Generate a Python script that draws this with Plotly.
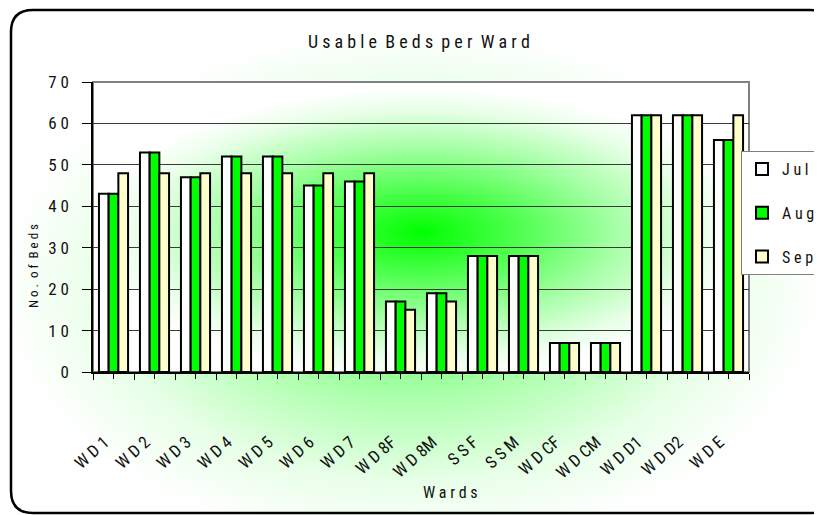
import base64
import plotly.graph_objects as go

# ---- data ----
wards = ["W D 1", "W D 2", "W D 3", "W D 4", "W D 5", "W D 6", "W D 7", "W D 8F",
         "W D 8M", "S S F", "S S M", "W D CF", "W D CM", "W D D1", "W D D2", "W D E"]
jul = [43, 53, 47, 52, 52, 45, 46, 17, 19, 28, 28, 7, 7, 62, 62, 56]
aug = [43, 53, 47, 52, 52, 45, 46, 17, 19, 28, 28, 7, 7, 62, 62, 56]
sep = [48, 48, 48, 48, 48, 48, 48, 15, 17, 28, 28, 7, 7, 62, 62, 62]
series_names = ["J u l", "A u g", "S e p"]
y_ticks = [0, 10, 20, 30, 40, 50, 60, 70]
y_ticktext = ["0", "1 0", "2 0", "3 0", "4 0", "5 0", "6 0", "7 0"]
title_text = "U s a b l e\u00a0 B e d s\u00a0 p e r\u00a0 W a r d"
x_title = "W a r d s"
y_title = "N o .\u00a0 o f\u00a0 B e d s"

# ---- geometry (reference-window pixels; page body has an 8px margin) ----
OFF = 8
WIN_W, WIN_H = 822, 515
WIDTH, HEIGHT = WIN_W - OFF, WIN_H - OFF
L, R, T, B = 93, 749, 82, 372
PW, PH = R - L, B - T
N = len(wards)
LABEL_SHIFT = 0.22  # category units: rotated labels sit a little left of centre


def px(x):
    return (x - L) / PW


def py(y):
    return (B - y) / PH


FONT = ("Liberation Sans Narrow, Roboto Condensed, Noto Sans Condensed, "
        "Roboto, Liberation Sans, sans-serif")


def svg_uri(stops, cx, cy, w, h):
    st = "".join(f'<stop offset="{o}" stop-color="{c}"/>' for o, c in stops)
    svg = (f'<svg xmlns="http://www.w3.org/2000/svg" width="{w}" height="{h}" '
           f'viewBox="0 0 {w} {h}" preserveAspectRatio="none">'
           f'<defs><radialGradient id="g" cx="{cx}" cy="{cy}" r="0.5">{st}</radialGradient></defs>'
           f'<rect x="0" y="0" width="{w}" height="{h}" fill="url(#g)"/></svg>')
    return "data:image/svg+xml;base64," + base64.b64encode(svg.encode()).decode()


chart_bg = svg_uri([(0, "#55ff55"), (0.45, "#b0ffb0"), (0.75, "#e8ffe8"), (1, "#ffffff")],
                   0.5, 0.56, WIN_W, WIN_H)
plot_bg = svg_uri([(0, "#00ff00"), (0.3, "#50ff50"), (0.6, "#a8ffa8"), (0.85, "#e8ffe8"), (1, "#ffffff")],
                  0.5, 0.52, PW, PH)

fig = go.Figure()
colors = ["#ffffff", "#00ff00", "#ffffcc"]
for name, vals, col in zip(series_names, [jul, aug, sep], colors):
    fig.add_trace(go.Bar(
        x=wards, y=vals, name=name, legendgroup=name,
        marker=dict(color=col, line=dict(color="black", width=2)),
    ))

# dummy traces to drive the helper category axes (centre ticks, labels)
for ax in ("x2", "x3"):
    fig.add_trace(go.Scatter(x=wards, y=[None] * N, xaxis=ax, yaxis="y",
                             showlegend=False, hoverinfo="skip", mode="markers"))

# rounded outer border
x0, y0, x1, y1, r = 11, 10, 832, 513, 22
path = (f"M {px(x0 + r)},{py(y0)} L {px(x1 - r)},{py(y0)} "
        f"Q {px(x1)},{py(y0)} {px(x1)},{py(y0 + r)} "
        f"L {px(x1)},{py(y1 - r)} Q {px(x1)},{py(y1)} {px(x1 - r)},{py(y1)} "
        f"L {px(x0 + r)},{py(y1)} Q {px(x0)},{py(y1)} {px(x0)},{py(y1 - r)} "
        f"L {px(x0)},{py(y0 + r)} Q {px(x0)},{py(y0)} {px(x0 + r)},{py(y0)} Z")

fig.update_layout(
    width=WIDTH, height=HEIGHT,
    margin=dict(l=L - OFF, r=WIN_W - R, t=T - OFF, b=WIN_H - B, autoexpand=False),
    paper_bgcolor="white", plot_bgcolor="rgba(0,0,0,0)",
    barmode="group", bargap=0.29, bargroupgap=0,
    font=dict(family=FONT, size=15, color="#111"),
    showlegend=True,
    legend=dict(x=px(741), xanchor="left", y=py(151), yanchor="top",
                bgcolor="white", bordercolor="#808080", borderwidth=1,
                font=dict(size=16, family=FONT, color="#111"),
                traceorder="grouped", tracegroupgap=20, itemwidth=30),
    xaxis=dict(type="category", categoryarray=wards, range=[-0.5, N - 0.5],
               tickson="boundaries", ticks="outside", ticklen=6, tickcolor="black",
               showline=True, linecolor="black", linewidth=1.5,
               showticklabels=False, automargin=False, showgrid=False),
    xaxis2=dict(type="category", categoryarray=wards, range=[-0.5, N - 0.5],
                overlaying="x", anchor="y", side="bottom", ticks="outside", ticklen=6,
                tickcolor="black", showticklabels=False, showgrid=False, showline=False,
                automargin=False),
    xaxis3=dict(type="category", categoryarray=wards,
                range=[-0.5 + LABEL_SHIFT, N - 0.5 + LABEL_SHIFT],
                overlaying="x", anchor="y", side="bottom", ticks="",
                tickangle=-42, ticklabelstandoff=56, automargin=False,
                tickfont=dict(size=17, family=FONT, color="#111"),
                showgrid=False, showline=False),
    yaxis=dict(range=[0, 70], tickvals=y_ticks, ticktext=y_ticktext,
               ticks="outside", ticklen=9, tickcolor="black",
               showline=True, linecolor="black", linewidth=1.5,
               gridcolor="#3a3a3a", gridwidth=1, zeroline=False,
               ticklabelstandoff=10, automargin=False,
               tickfont=dict(size=17, family=FONT, color="#111")),
    images=[
        dict(source=chart_bg, xref="paper", yref="paper", x=px(0), y=py(0),
             sizex=WIN_W / PW, sizey=WIN_H / PH, xanchor="left", yanchor="top",
             sizing="stretch", layer="below"),
        dict(source=plot_bg, xref="paper", yref="paper", x=0, y=1,
             sizex=1, sizey=1, xanchor="left", yanchor="top",
             sizing="stretch", layer="below"),
    ],
    shapes=[
        dict(type="rect", xref="paper", yref="paper", x0=0, y0=0, x1=1, y1=1,
             line=dict(color="#808080", width=2), layer="below"),
        dict(type="path", xref="paper", yref="paper", path=path,
             line=dict(color="black", width=2.5)),
    ],
    annotations=[
        dict(text=title_text, xref="paper", yref="paper", x=px(419), y=py(42),
             xanchor="center", yanchor="middle",
             showarrow=False, font=dict(size=18, family=FONT, color="#111")),
        dict(text=y_title, xref="paper", yref="paper", x=px(33), y=py(266),
             xanchor="center", yanchor="middle",
             showarrow=False, textangle=-90, font=dict(size=13, family=FONT, color="#111")),
        dict(text=x_title, xref="paper", yref="paper", x=px(450), y=py(492),
             xanchor="center", yanchor="middle",
             showarrow=False, font=dict(size=16, family=FONT, color="#111")),
    ],
)

fig.write_html("out.html")
